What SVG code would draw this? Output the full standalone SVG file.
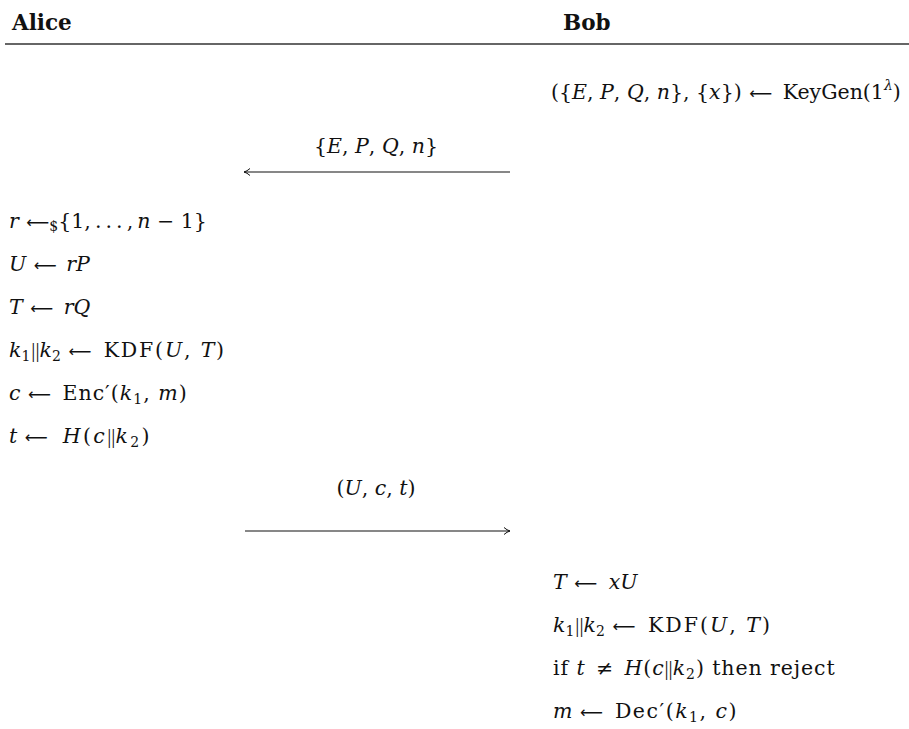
<svg xmlns="http://www.w3.org/2000/svg" width="909" height="729" viewBox="0 0 909 729">
<style>
text{font-family:"DejaVu Serif","Liberation Serif",serif;font-size:20.5px;fill:#111}
.h{font-family:"DejaVu Serif",serif;font-weight:bold;font-size:21.5px}
.i{font-style:italic}
.s{font-size:14px}
.a{font-family:"DejaVu Sans",sans-serif;font-size:16px}
.b{font-family:"Liberation Serif",serif;letter-spacing:0}
.conn{stroke:#111;stroke-width:1.1;fill:none}
</style>
<defs>
<marker id="ah" markerWidth="10" markerHeight="10" refX="7" refY="5" orient="auto" markerUnits="userSpaceOnUse">
<path d="M1,1.5 Q4,4.2 7,5 Q4,5.8 1,8.5" fill="none" stroke="#111" stroke-width="1"/>
</marker>
</defs>
<g id="header">
<text class="h" x="12" y="30">Alice</text>
<text class="h" x="563" y="30">Bob</text>
<line x1="5" y1="44" x2="909" y2="44" stroke="#333" stroke-width="1.3"/>
</g>
<g id="bob-keygen">
<text x="551" y="99">({<tspan class="i">E</tspan>, <tspan class="i">P</tspan>, <tspan class="i">Q</tspan>, <tspan class="i">n</tspan>}, {<tspan class="i">x</tspan>}) <tspan class="a" dx="1">⟵</tspan><tspan dx="4"> KeyGen(1</tspan><tspan class="s i" dy="-9">λ</tspan><tspan dy="9">)</tspan></text>
</g>
<g id="connectors">
<text x="376" y="153" text-anchor="middle">{<tspan class="i">E</tspan>, <tspan class="i">P</tspan>, <tspan class="i">Q</tspan>, <tspan class="i">n</tspan>}</text>
<line class="conn" x1="510" y1="172" x2="244" y2="172" marker-end="url(#ah)"/>
<text x="376" y="495" text-anchor="middle">(<tspan class="i">U</tspan>, <tspan class="i">c</tspan>, <tspan class="i">t</tspan>)</text>
<line class="conn" x1="245" y1="531" x2="510" y2="531" marker-end="url(#ah)"/>
</g>
<g id="alice-steps">
<text x="9" y="228"><tspan class="i">r</tspan> <tspan class="a" dx="1">⟵</tspan><tspan class="s" dy="3">$</tspan><tspan dy="-3">{1,&#8201;.&#8201;.&#8201;.&#8201;,&#8201;</tspan><tspan class="i">n</tspan> − 1}</text>
<text x="9" y="271"><tspan class="i">U</tspan> <tspan class="a" dx="1">⟵</tspan><tspan class="i" dx="3"> rP</tspan></text>
<text x="9" y="314"><tspan class="i">T</tspan> <tspan class="a" dx="1">⟵</tspan><tspan class="i" dx="4"> rQ</tspan></text>
<text x="9" y="357"><tspan class="i">k</tspan><tspan class="s" dy="4">1</tspan><tspan class="b" dy="-4" dx="1">||</tspan><tspan class="i">k</tspan><tspan class="s" dy="4">2</tspan><tspan dy="-4"> </tspan><tspan class="a" dx="1">⟵</tspan><tspan dx="4" style="letter-spacing:1.8px"> KDF(<tspan class="i">U</tspan>, <tspan class="i">T</tspan>)</tspan></text>
<text x="9" y="400"><tspan class="i">c</tspan> <tspan class="a" dx="1">⟵</tspan><tspan dx="4" style="letter-spacing:1px"> Enc′(<tspan class="i">k</tspan><tspan class="s" dy="4">1</tspan><tspan dy="-4">, </tspan><tspan class="i">m</tspan>)</tspan></text>
<text x="9" y="443"><tspan class="i">t</tspan> <tspan class="a" dx="1">⟵</tspan><tspan dx="4" style="letter-spacing:2.4px"> <tspan class="i" dx="2">H</tspan>(<tspan class="i">c</tspan><tspan class="b">||</tspan><tspan class="i">k</tspan><tspan class="s" dy="4">2</tspan><tspan dy="-4">)</tspan></tspan></text>
</g>
<g id="bob-steps">
<text x="553" y="589"><tspan class="i">T</tspan> <tspan class="a" dx="1">⟵</tspan><tspan class="i" dx="5"> xU</tspan></text>
<text x="553" y="632"><tspan class="i">k</tspan><tspan class="s" dy="4">1</tspan><tspan class="b" dy="-4" dx="1">||</tspan><tspan class="i">k</tspan><tspan class="s" dy="4">2</tspan><tspan dy="-4"> </tspan><tspan class="a" dx="1">⟵</tspan><tspan dx="4" style="letter-spacing:2px"> KDF(<tspan class="i">U</tspan>, <tspan class="i">T</tspan>)</tspan></text>
<text x="553" y="675" style="letter-spacing:0.9px">if <tspan class="i">t</tspan><tspan dx="3"> ≠ </tspan><tspan class="i" dx="3">H</tspan>(<tspan class="i">c</tspan><tspan class="b">||</tspan><tspan class="i">k</tspan><tspan class="s" dy="4">2</tspan><tspan dy="-4">) then reject</tspan></text>
<text x="553" y="718"><tspan class="i">m</tspan> <tspan class="a" dx="1">⟵</tspan><tspan dx="4" style="letter-spacing:1.5px"> Dec′(<tspan class="i">k</tspan><tspan class="s" dy="4">1</tspan><tspan dy="-4">, </tspan><tspan class="i">c</tspan>)</tspan></text>
</g>
</svg>
